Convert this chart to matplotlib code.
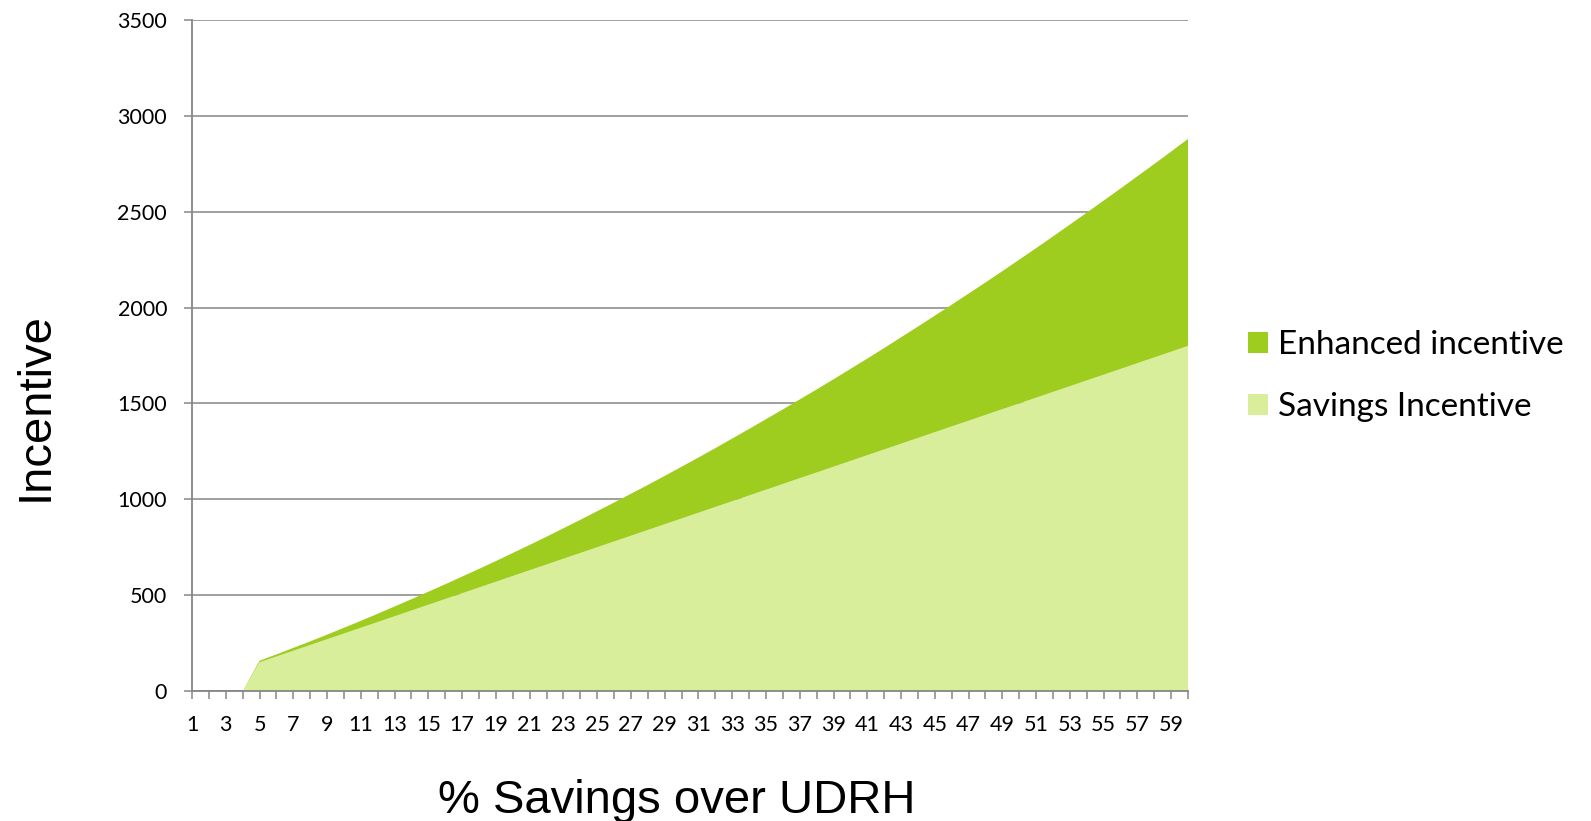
import matplotlib.pyplot as plt
from matplotlib.patches import Patch

# % savings over UDRH (category axis 1..60)
savings_pct = list(range(1, 61))

# Savings incentive (bottom layer)
savings_incentive = [0, 0, 0, 0,
                     150, 180, 210, 240, 270, 300, 330, 360, 390, 420,
                     450, 480, 510, 540, 570, 600, 630, 660, 690, 720,
                     750, 780, 810, 840, 870, 900, 930, 960, 990, 1020,
                     1050, 1080, 1110, 1140, 1170, 1200, 1230, 1260, 1290, 1320,
                     1350, 1380, 1410, 1440, 1470, 1500, 1530, 1560, 1590, 1620,
                     1650, 1680, 1710, 1740, 1770, 1800]

# Enhanced incentive (stacked on top)
enhanced_incentive = [0, 0, 0, 0,
                      8, 11, 15, 19, 24, 30, 36, 43, 51, 59,
                      68, 77, 87, 97, 108, 120, 132, 145, 159, 173,
                      188, 203, 219, 235, 252, 270, 288, 307, 327, 347,
                      368, 389, 411, 433, 456, 480, 504, 529, 555, 581,
                      608, 635, 663, 691, 720, 750, 780, 811, 843, 875,
                      908, 941, 975, 1009, 1044, 1080]

y_ticks = [0, 500, 1000, 1500, 2000, 2500, 3000, 3500]

light_green = "#D9EE9B"
dark_green = "#9FCD1F"
grey = "#868686"

fig = plt.figure(figsize=(15.91, 8.21), dpi=100)
ax = fig.add_axes([0.1207, 0.1583, 0.626, 0.8173])

ax.stackplot(savings_pct, savings_incentive, enhanced_incentive,
             colors=[light_green, dark_green], linewidth=0, zorder=3)

ax.set_xlim(1, 60)
ax.set_ylim(0, 3500)
ax.set_yticks(y_ticks)
ax.set_xticks(savings_pct)
ax.set_xticklabels([str(v) if v % 2 == 1 else "" for v in savings_pct])

ax.grid(axis="y", color=grey, linewidth=1.1)
ax.set_axisbelow(True)
for s in ["top", "right"]:
    ax.spines[s].set_visible(False)
for s in ["left", "bottom"]:
    ax.spines[s].set_color(grey)
    ax.spines[s].set_linewidth(1.3)
    ax.spines[s].set_zorder(4)

ax.tick_params(axis="both", direction="out", length=6, width=1.1, color=grey,
               labelsize=15.5)
ax.tick_params(axis="x", pad=11)
ax.tick_params(axis="y", pad=12)
for lbl in ax.get_xticklabels() + ax.get_yticklabels():
    lbl.set_fontfamily("Lato")

fig.text(0.0223, 0.505, "Incentive", rotation=90, fontsize=34,
         family="Liberation Sans", ha="center", va="center")
fig.text(0.4255, 0.024, "% Savings over UDRH", fontsize=34,
         family="Liberation Sans", ha="center", va="center")

handles = [Patch(facecolor=dark_green, label="Enhanced incentive"),
           Patch(facecolor=light_green, label="Savings Incentive")]
fig.legend(handles=handles, loc="center left", bbox_to_anchor=(0.774, 0.542),
           frameon=False, borderpad=0, prop={"family": "Lato", "size": 24},
           handlelength=0.6, handleheight=0.6, handletextpad=0.3,
           labelspacing=0.95)

fig.savefig("out.png", dpi=100)
